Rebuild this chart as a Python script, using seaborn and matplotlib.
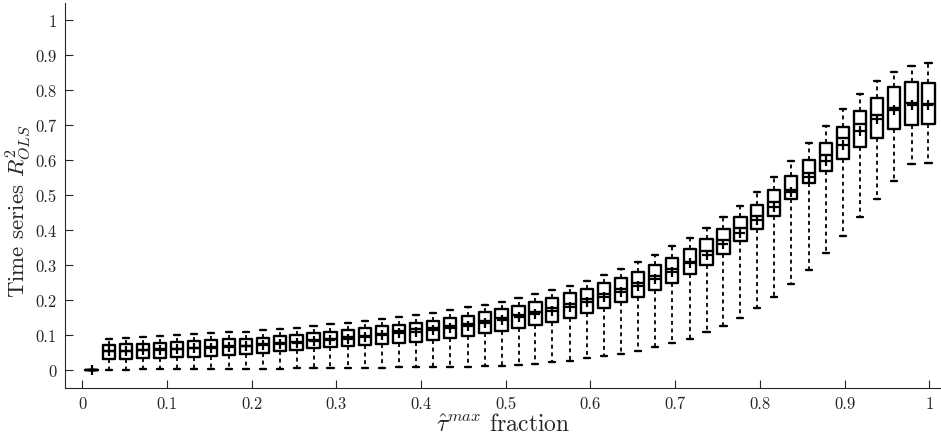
import matplotlib
matplotlib.use("Agg")
import matplotlib.pyplot as plt
import pandas as pd
import seaborn as sns

# ---- data ----
x_frac = [0.011, 0.032, 0.052, 0.072, 0.092, 0.112, 0.132, 0.152, 0.173, 0.193,
          0.213, 0.233, 0.253, 0.273, 0.293, 0.314, 0.334, 0.354, 0.374, 0.394,
          0.414, 0.434, 0.455, 0.475, 0.495, 0.515, 0.535, 0.555, 0.576, 0.596,
          0.616, 0.636, 0.656, 0.676, 0.696, 0.717, 0.737, 0.757, 0.777, 0.797,
          0.817, 0.837, 0.858, 0.878, 0.898, 0.918, 0.938, 0.958, 0.979, 0.999]

whisker_low = [0.0, 0.001, 0.001, 0.002, 0.002, 0.002, 0.003, 0.003, 0.003, 0.004,
               0.004, 0.004, 0.005, 0.005, 0.006, 0.006, 0.007, 0.007, 0.008, 0.008,
               0.009, 0.010, 0.010, 0.011, 0.012, 0.015, 0.017, 0.022, 0.027, 0.033,
               0.039, 0.045, 0.054, 0.065, 0.077, 0.089, 0.108, 0.127, 0.150, 0.177,
               0.210, 0.245, 0.287, 0.333, 0.384, 0.436, 0.490, 0.541, 0.588, 0.591]

q1 = [0.0, 0.031, 0.032, 0.033, 0.035, 0.036, 0.038, 0.040, 0.043, 0.046,
      0.050, 0.053, 0.056, 0.062, 0.066, 0.069, 0.071, 0.074, 0.077, 0.081,
      0.086, 0.091, 0.098, 0.105, 0.112, 0.120, 0.129, 0.137, 0.150, 0.163,
      0.177, 0.193, 0.210, 0.229, 0.250, 0.274, 0.301, 0.331, 0.368, 0.402,
      0.440, 0.489, 0.533, 0.568, 0.604, 0.638, 0.663, 0.689, 0.701, 0.702]

median = [0.0, 0.054, 0.055, 0.057, 0.059, 0.061, 0.063, 0.065, 0.068, 0.070,
          0.073, 0.077, 0.080, 0.086, 0.090, 0.094, 0.098, 0.104, 0.112, 0.117,
          0.121, 0.127, 0.131, 0.139, 0.149, 0.157, 0.167, 0.177, 0.190, 0.202,
          0.217, 0.231, 0.248, 0.268, 0.288, 0.310, 0.339, 0.371, 0.405, 0.440,
          0.480, 0.515, 0.564, 0.613, 0.662, 0.702, 0.728, 0.748, 0.762, 0.760]

q3 = [0.0, 0.072, 0.073, 0.075, 0.078, 0.080, 0.082, 0.085, 0.088, 0.090,
      0.092, 0.096, 0.100, 0.106, 0.110, 0.114, 0.119, 0.125, 0.130, 0.134,
      0.141, 0.149, 0.155, 0.165, 0.173, 0.183, 0.194, 0.206, 0.219, 0.231,
      0.249, 0.264, 0.281, 0.299, 0.321, 0.347, 0.373, 0.404, 0.437, 0.471,
      0.514, 0.555, 0.600, 0.648, 0.695, 0.741, 0.776, 0.810, 0.824, 0.821]

whisker_high = [0.0, 0.090, 0.092, 0.094, 0.097, 0.100, 0.103, 0.105, 0.108, 0.110,
                0.113, 0.117, 0.121, 0.127, 0.131, 0.135, 0.141, 0.146, 0.152, 0.157,
                0.164, 0.171, 0.179, 0.186, 0.195, 0.206, 0.216, 0.228, 0.241, 0.255,
                0.271, 0.290, 0.308, 0.330, 0.354, 0.378, 0.406, 0.437, 0.470, 0.509,
                0.551, 0.598, 0.648, 0.697, 0.747, 0.790, 0.827, 0.851, 0.870, 0.878]

mean_vals = [0.0, 0.054, 0.055, 0.056, 0.058, 0.060, 0.062, 0.064, 0.066, 0.068,
             0.071, 0.074, 0.077, 0.082, 0.086, 0.090, 0.094, 0.099, 0.106, 0.110,
             0.115, 0.121, 0.127, 0.133, 0.144, 0.151, 0.159, 0.169, 0.181, 0.194,
             0.208, 0.224, 0.240, 0.260, 0.279, 0.305, 0.330, 0.360, 0.391, 0.428,
             0.467, 0.510, 0.551, 0.598, 0.643, 0.683, 0.717, 0.744, 0.756, 0.756]

x_ticks = [0, 0.1, 0.2, 0.3, 0.4, 0.5, 0.6, 0.7, 0.8, 0.9, 1]
x_tick_labels = ["0", "0.1", "0.2", "0.3", "0.4", "0.5", "0.6", "0.7", "0.8", "0.9", "1"]
y_ticks = [0, 0.1, 0.2, 0.3, 0.4, 0.5, 0.6, 0.7, 0.8, 0.9, 1]
y_tick_labels = ["0", "0.1", "0.2", "0.3", "0.4", "0.5", "0.6", "0.7", "0.8", "0.9", "1"]

x_label = r"$\hat{\tau}^{max}$ fraction"
y_label = r"Time series $R^2_{OLS}$"

# ---- style ----
sns.set_style("ticks")
plt.rcParams["font.family"] = ["cmr10", "DejaVu Serif"]
plt.rcParams["mathtext.fontset"] = "cm"
plt.rcParams["axes.formatter.use_mathtext"] = True

# five-number samples per box -> percentiles 0/25/50/75/100 reproduce the stats
rows = []
for xv, lo, a, m, b, hi in zip(x_frac, whisker_low, q1, median, q3, whisker_high):
    for v in (lo, a, m, b, hi):
        rows.append({"x": xv, "r2": v})
df = pd.DataFrame(rows)
means = pd.DataFrame({"x": x_frac, "mean": mean_vals})

fig = plt.figure(figsize=(9.41, 4.39), dpi=100)
ax = fig.add_axes([65 / 941, 50.5 / 439, 876 / 941, 385 / 439])

sns.boxplot(data=df, x="x", y="r2", native_scale=True, whis=(0, 100),
            width=0.72, fill=False, color="black", linecolor="black",
            linewidth=1.7,
            whiskerprops=dict(linestyle=(0, (2.2, 2.0)), linewidth=1.3),
            ax=ax)
sns.scatterplot(data=means, x="x", y="mean", marker="+", s=55, color="black",
                linewidth=1.6, ax=ax, zorder=5)

ax.set_xlim(-0.0204, 1.0138)
ax.set_ylim(-0.05, 1.05)
ax.set_xticks(x_ticks)
ax.set_xticklabels(x_tick_labels)
ax.set_yticks(y_ticks)
ax.set_yticklabels(y_tick_labels)
ax.tick_params(axis="both", direction="in", length=5.5, width=0.8,
               labelsize=12, colors="#262626")
ax.tick_params(axis="x", pad=6)
ax.tick_params(axis="y", pad=6)
for side in ("top", "right"):
    ax.spines[side].set_visible(False)
for side in ("left", "bottom"):
    ax.spines[side].set_color("#262626")
    ax.spines[side].set_linewidth(0.8)

ax.set_xlabel(x_label, fontsize=17, labelpad=1)
ax.set_ylabel(y_label, fontsize=16.5, labelpad=3)
ax.yaxis.set_label_coords(-0.036, 0.46)

fig.savefig("out.png", dpi=100)
